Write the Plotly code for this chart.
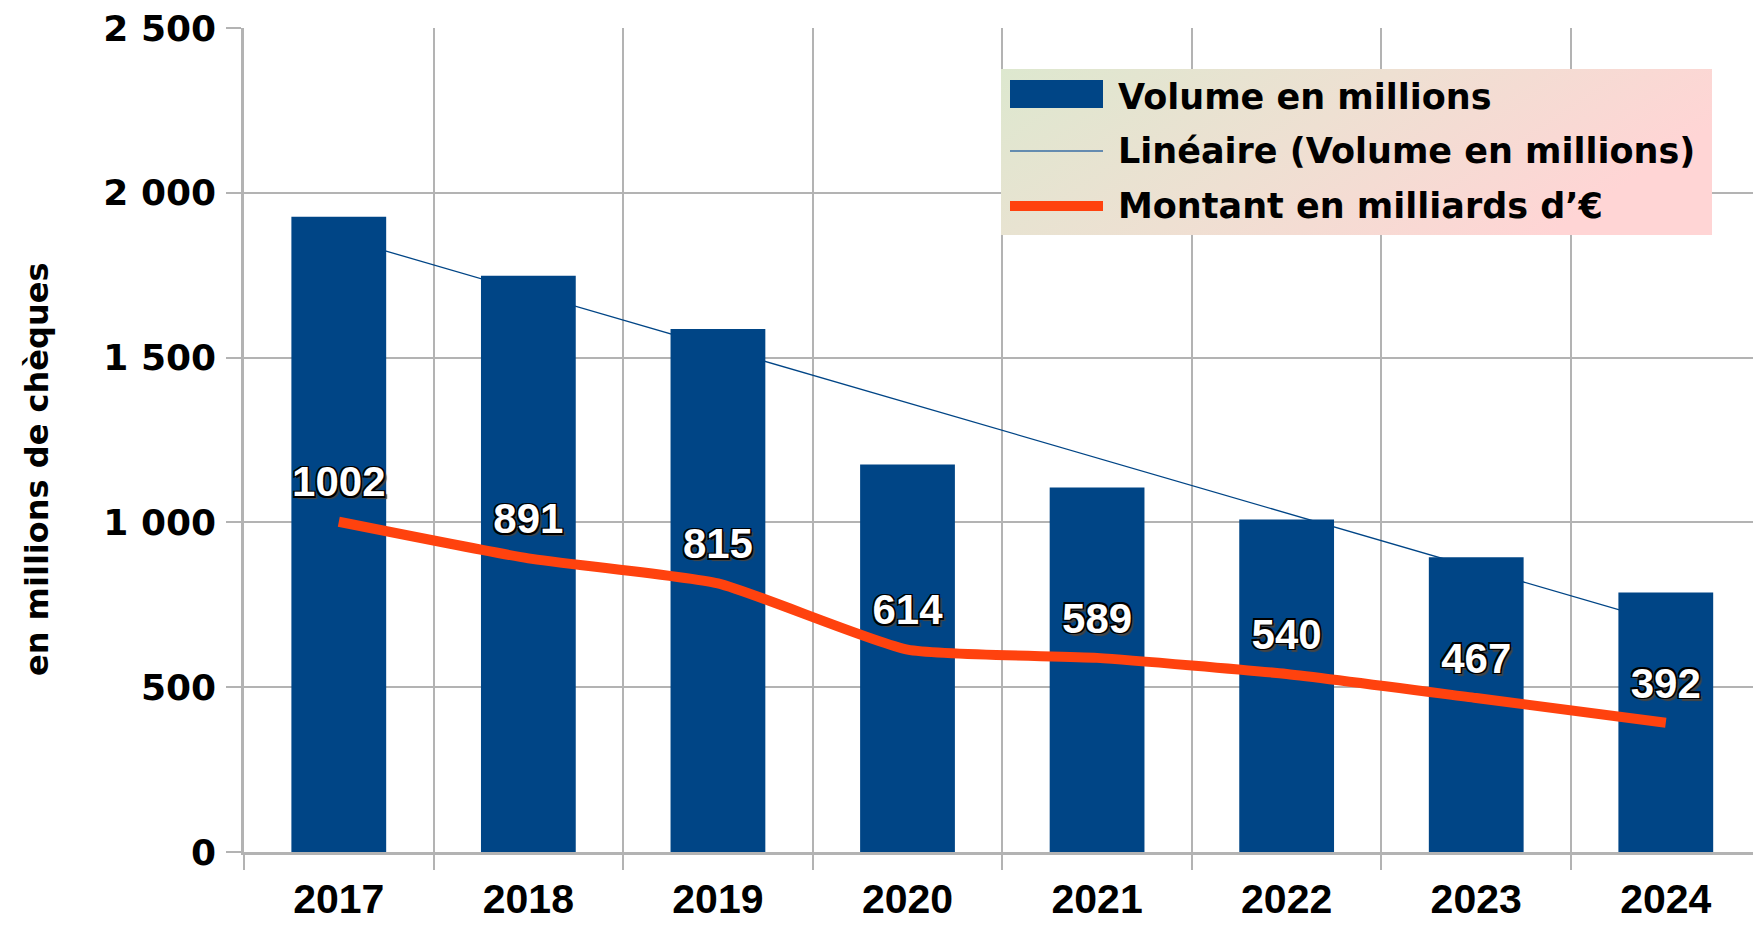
import base64
import numpy as np
import plotly.graph_objects as go

# ---------------- data ----------------
years = ["2017", "2018", "2019", "2020", "2021", "2022", "2023", "2024"]
volume = [1927, 1748, 1587, 1176, 1106, 1009, 894, 787]          # millions of cheques
montant = [1002, 891, 815, 614, 589, 540, 467, 392]              # billions of euros
montant_labels = [str(v) for v in montant]
y_tickvals = [0, 500, 1000, 1500, 2000, 2500]
y_ticktext = ["0", "500", "1 000", "1 500", "2 000", "2 500"]
name_volume = "Volume en millions"
name_trend = "Linéaire (Volume en millions)"
name_montant = "Montant en milliards d’€"
y_title = "en millions de chèques"

# linear trend of the volume series (least squares)
idx = np.arange(len(volume))
coef = np.polyfit(idx, volume, 1)
trend = np.polyval(coef, idx)

# ---------------- layout geometry ----------------
W, H = 1753, 928
L, R, T, B = 244, 0, 28, 76


def px(x):
    return (x - L) / (W - L - R)


def py(y):
    return (H - B - y) / (H - T - B)


BLUE = "#004586"
RED = "#ff420e"
GRID = "#b3b3b3"
BOLD = "DejaVu Sans"
NARROW = "Liberation Sans, Arial, sans-serif"

fig = go.Figure()

# trend line on the base subplot (drawn beneath the bars)
fig.add_trace(go.Scatter(
    x=years, y=trend, mode="lines", name=name_trend,
    line=dict(color=BLUE, width=1.3), showlegend=False,
    xaxis="x", yaxis="y", hoverinfo="skip"))

# bars on the overlay subplot
fig.add_trace(go.Bar(
    x=years, y=volume, name=name_volume, width=0.5,
    marker=dict(color=BLUE, line=dict(width=0)),
    showlegend=False, xaxis="x2", yaxis="y2"))

# amount line with labels
fig.add_trace(go.Scatter(
    x=years, y=montant, name=name_montant, mode="lines+markers+text",
    line=dict(color=RED, width=10, shape="spline", smoothing=0.5),
    marker=dict(size=22, color="rgba(0,0,0,0)", line=dict(width=0)),
    text=montant_labels, texttemplate="%{text}", textposition="top center",
    textfont=dict(family=NARROW, size=42, color="white", weight="bold",
                  shadow="1.5px 1.5px 0 #000, -1.5px -1.5px 0 #000, 1.5px -1.5px 0 #000, -1.5px 1.5px 0 #000, 3px 3px 1px #444"),
    cliponaxis=False, showlegend=False, xaxis="x2", yaxis="y2"))

xrange = [-0.5, 7.46]

fig.update_layout(
    width=W, height=H,
    margin=dict(l=L, r=R, t=T, b=B, pad=0, autoexpand=False),
    paper_bgcolor="white", plot_bgcolor="white",
    showlegend=False,
    xaxis=dict(
        type="category", categoryorder="array", categoryarray=years,
        range=xrange, tickson="boundaries", automargin=False,
        showgrid=True, gridcolor=GRID, gridwidth=1.5,
        ticks="outside", ticklen=15, tickcolor=GRID, tickwidth=1.5,
        showline=True, linecolor=GRID, linewidth=2.5,
        tickfont=dict(family=NARROW, size=41, color="black", weight="bold"),
        ticklabelstandoff=9,
    ),
    yaxis=dict(
        range=[0, 2500], tickmode="array", tickvals=y_tickvals, ticktext=y_ticktext,
        automargin=False,
        showgrid=True, gridcolor=GRID, gridwidth=1.5, zeroline=False,
        ticks="outside", ticklen=15, tickcolor=GRID, tickwidth=1.5,
        showline=True, linecolor=GRID, linewidth=2.5,
        tickfont=dict(family=BOLD, size=36, color="black", weight="bold"),
        ticklabelstandoff=3,
    ),
    xaxis2=dict(type="category", categoryorder="array", categoryarray=years,
                range=xrange, overlaying="x", anchor="y2", visible=False, automargin=False),
    yaxis2=dict(range=[0, 2500], overlaying="y", anchor="x2", visible=False, automargin=False),
)

# ---------------- legend (gradient box + symbols + texts) ----------------
lx0, lx1, ly0, ly1 = 1001, 1712, 69, 235
svg = (
    "<svg xmlns='http://www.w3.org/2000/svg' width='711' height='166' preserveAspectRatio='none'>"
    "<defs><linearGradient id='g' x1='0' y1='0' x2='1' y2='0.35'>"
    "<stop offset='0' stop-color='#dde8cf'/>"
    "<stop offset='0.5' stop-color='#eee0d2'/>"
    "<stop offset='1' stop-color='#ffd5d5'/>"
    "</linearGradient></defs>"
    "<rect width='711' height='166' fill='url(#g)'/></svg>"
)
src = "data:image/svg+xml;base64," + base64.b64encode(svg.encode()).decode()
fig.add_layout_image(dict(
    source=src, xref="paper", yref="paper",
    x=px(lx0), y=py(ly0), sizex=px(lx1) - px(lx0), sizey=py(ly0) - py(ly1),
    xanchor="left", yanchor="top", sizing="stretch", layer="above"))

sx0, sx1 = 1010, 1103
fig.add_shape(type="rect", xref="paper", yref="paper",
              x0=px(sx0), x1=px(sx1), y0=py(80), y1=py(108),
              fillcolor=BLUE, line=dict(width=0), layer="above")
fig.add_shape(type="line", xref="paper", yref="paper",
              x0=px(sx0), x1=px(sx1), y0=py(151), y1=py(151),
              line=dict(color="#3a6ea5", width=1.6), layer="above")
fig.add_shape(type="line", xref="paper", yref="paper",
              x0=px(sx0), x1=px(sx1), y0=py(206), y1=py(206),
              line=dict(color=RED, width=10), layer="above")

for txt, yy in [(name_volume, 97), (name_trend, 151), (name_montant, 206)]:
    fig.add_annotation(text=txt, xref="paper", yref="paper",
                       x=px(1116), y=py(yy), xanchor="left", yanchor="middle",
                       showarrow=False,
                       font=dict(family=BOLD, size=35, color="black", weight="bold"))

# y-axis title
fig.add_annotation(text=y_title, xref="paper", yref="paper",
                   x=px(37), y=py(470), xanchor="center", yanchor="middle",
                   textangle=-90, showarrow=False,
                   font=dict(family=BOLD, size=32, color="black", weight="bold"))

fig.write_html("out.html", config={"displayModeBar": False},
               post_script="document.body.style.margin='0';")
